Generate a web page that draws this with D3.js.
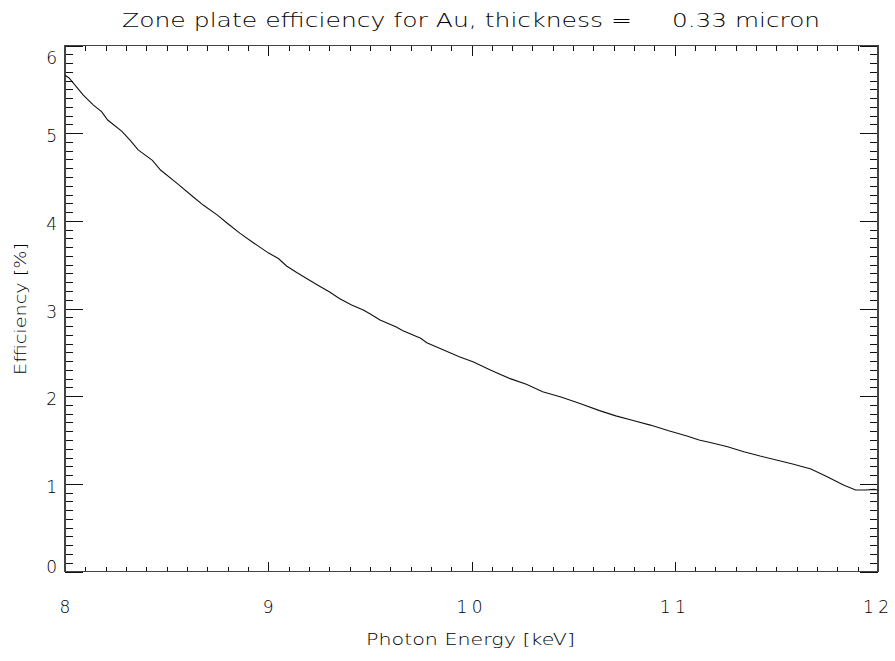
<!DOCTYPE html>
<html>
<head>
<meta charset="utf-8">
<script src="https://cdn.jsdelivr.net/npm/d3@7"></script>
<style>
  html, body { margin: 0; padding: 0; background: #fff; }
  svg { display: block; }
  text { font-family: "DejaVu Sans", sans-serif; font-weight: 200; fill: #000; }
</style>
</head>
<body>
<svg id="svg" width="895" height="661"></svg>
<script>
// photon energy (keV) and zone plate efficiency (%)
var energy = [8.00, 8.02, 8.09, 8.14, 8.18, 8.21, 8.28, 8.32, 8.36, 8.43, 8.47, 8.55, 8.63, 8.68,
    8.75, 8.80, 8.86, 8.93, 9.00, 9.05, 9.09, 9.14, 9.24, 9.30, 9.35, 9.41, 9.47, 9.50, 9.55,
    9.63, 9.66, 9.75, 9.78, 9.88, 9.94, 10.01, 10.09, 10.19, 10.27, 10.35, 10.44, 10.53, 10.63,
    10.71, 10.80, 10.88, 10.97, 11.06, 11.12, 11.19, 11.26, 11.34, 11.42, 11.50, 11.58, 11.67,
    11.75, 11.83, 11.89, 11.94, 11.98, 12.00];
var efficiency = [5.66, 5.63, 5.435, 5.32, 5.245, 5.15, 5.02, 4.92, 4.81, 4.69, 4.58, 4.43, 4.275, 4.18,
    4.065, 3.97, 3.86, 3.745, 3.635, 3.57, 3.485, 3.41, 3.27, 3.19, 3.115, 3.04, 2.98, 2.94, 2.87,
    2.79, 2.75, 2.66, 2.61, 2.51, 2.45, 2.39, 2.30, 2.20, 2.135, 2.05, 1.99, 1.92, 1.835,
    1.775, 1.72, 1.67, 1.605, 1.546, 1.50, 1.462, 1.424, 1.367, 1.317, 1.272, 1.226, 1.169,
    1.081, 0.987, 0.93, 0.93, 0.937, 0.93];

var xMajor = [8, 9, 10, 11, 12];
var yMajor = [0, 1, 2, 3, 4, 5, 6];
var xLabels = ["8", "9", "10", "11", "12"];
var yLabels = ["0", "1", "2", "3", "4", "5", "6"];
var titleLeft = "Zone plate efficiency for Au, thickness =";
var titleRight = "0.33 micron";
var xTitle = "Photon Energy [keV]";
var yTitle = "Efficiency [%]";

!function() {
    var svg = d3.select("#svg");
    var L = 65, R = 878, T = 45.5, B = 571.5;

    var x = d3.scaleLinear().domain([8, 12]).range([L, R]);
    var y = d3.scaleLinear().domain([0, 6]).range([B, T]);

    // minor tick positions every 0.1
    var xMinor = d3.range(80, 121).map(function(d) { return d / 10; })
        .filter(function(d) { return xMajor.indexOf(d) < 0; });
    var yMinor = d3.range(0, 61).map(function(d) { return d / 10; })
        .filter(function(d) { return yMajor.indexOf(d) < 0; });

    function ticks(axis, scale, vals, size, tx, ty) {
        var g = svg.append("g")
            .attr("transform", "translate(" + tx + "," + ty + ")")
            .call(axis(scale).tickValues(vals).tickSize(size).tickFormat(""));
        g.select(".domain").remove();
        g.selectAll("line").attr("stroke", "#111").attr("shape-rendering", "crispEdges");
    }
    // bottom/top (inward)
    ticks(d3.axisBottom, x, xMajor, -9.5, 0, B);
    ticks(d3.axisBottom, x, xMinor, -5, 0, B);
    ticks(d3.axisTop, x, xMajor, -10, 0, T);
    ticks(d3.axisTop, x, xMinor, -5, 0, T);
    // left/right (inward)
    ticks(d3.axisLeft, y, yMajor, -17.5, L, 0);
    ticks(d3.axisLeft, y, yMinor, -8, L, 0);
    ticks(d3.axisRight, y, yMajor, -18, R, 0);
    ticks(d3.axisRight, y, yMinor, -8, R, 0);

    // frame
    svg.append("rect")
        .attr("x", L).attr("y", T).attr("width", R - L).attr("height", B - T)
        .attr("fill", "none").attr("stroke", "#444").attr("stroke-width", 1.2)
        .attr("shape-rendering", "crispEdges");

    // curve
    var line = d3.line()
        .x(function(d, i) { return x(energy[i]); })
        .y(function(d, i) { return y(efficiency[i]); });
    svg.append("path")
        .datum(energy)
        .attr("d", line)
        .attr("fill", "none")
        .attr("stroke", "#111")
        .attr("stroke-width", 1.1);

    // x tick labels
    svg.selectAll(".xl").data(xMajor).enter().append("text")
        .attr("class", "xl")
        .attr("x", function(d) { return x(d) - (d > 9 ? 2 : 0); })
        .attr("y", 613)
        .attr("text-anchor", "middle")
        .attr("font-size", 17)
        .each(function(d, i) {
            var t = d3.select(this).text(xLabels[i]);
            if (xLabels[i].length > 1) t.attr("textLength", 26).attr("lengthAdjust", "spacing");
        });

    // y tick labels (IDL nudges the end labels)
    var yOff = [1, 9, 9, 9, 9, 9, 18];
    svg.selectAll(".yl").data(yMajor).enter().append("text")
        .attr("class", "yl")
        .attr("x", 57)
        .attr("y", function(d, i) { return y(d) + yOff[i]; })
        .attr("text-anchor", "end")
        .attr("font-size", 17)
        .text(function(d, i) { return yLabels[i]; });

    // titles
    svg.append("text").attr("x", 122).attr("y", 27).attr("font-size", 19)
        .attr("textLength", 510).attr("lengthAdjust", "spacingAndGlyphs").text(titleLeft);
    svg.append("text").attr("x", 672).attr("y", 27).attr("font-size", 19)
        .attr("textLength", 148).attr("lengthAdjust", "spacingAndGlyphs").text(titleRight);

    svg.append("text").attr("x", 366).attr("y", 645).attr("font-size", 16)
        .attr("textLength", 209).attr("lengthAdjust", "spacingAndGlyphs").text(xTitle);

    svg.append("text")
        .attr("transform", "translate(26,375) rotate(-90)")
        .attr("x", 0).attr("y", 0).attr("font-size", 15)
        .attr("textLength", 132).attr("lengthAdjust", "spacingAndGlyphs").text(yTitle);
}();
</script>
</body>
</html>
